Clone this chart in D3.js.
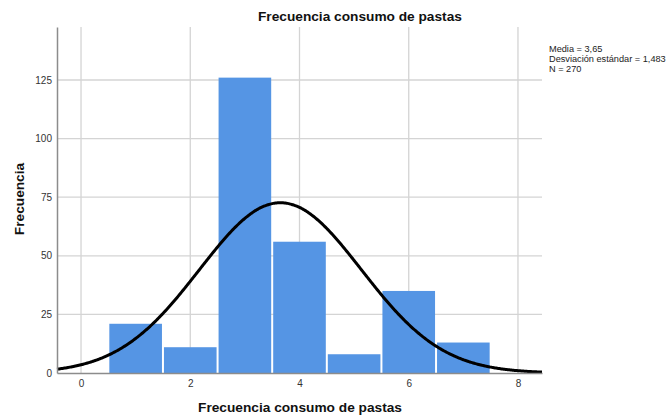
<!DOCTYPE html>
<html>
<head>
<meta charset="utf-8">
<script src="https://cdn.jsdelivr.net/npm/d3@7"></script>
<style>
  html, body { margin: 0; padding: 0; background: #fff; }
  svg { display: block; font-family: "Liberation Sans", Arial, sans-serif; }
</style>
</head>
<body>
<svg id="chart" width="668" height="417"></svg>
<script>
// Data
const binCenters = [1, 2, 3, 4, 5, 6, 7];
const counts = [21, 11, 126, 56, 8, 35, 13];
const xTicks = [0, 2, 4, 6, 8];
const yTicks = [0, 25, 50, 75, 100, 125];
const meanVal = 3.65;
const sdVal = 1.483;
const nVal = 270;
const binWidth = 1;
const statsLines = ["Media = 3,65", "Desviación estándar = 1,483", "N = 270"];
const chartTitle = "Frecuencia consumo de pastas";
const xTitle = "Frecuencia consumo de pastas";
const yTitle = "Frecuencia";

(function () {
const svg = d3.select("#chart");
const pLeft = 57, pRight = 542, pTop = 27, pBottom = 373;

const x = d3.scaleLinear().domain([-0.44, 8.44]).range([pLeft, pRight]);
const y = d3.scaleLinear().domain([0, 147.6]).range([pBottom, pTop]);

// gridlines
const grid = svg.append("g");
grid.selectAll("line.h").data(yTicks.filter(d => d > 0)).join("line")
  .attr("x1", pLeft).attr("x2", pRight)
  .attr("y1", d => y(d)).attr("y2", d => y(d))
  .attr("stroke", "#d4d4d4").attr("stroke-width", 1.3);
grid.selectAll("line.v").data(xTicks).join("line")
  .attr("x1", d => x(d)).attr("x2", d => x(d))
  .attr("y1", pTop).attr("y2", pBottom)
  .attr("stroke", "#d4d4d4").attr("stroke-width", 1.3);

// bars
svg.append("g").selectAll("rect").data(binCenters).join("rect")
  .attr("x", (d) => x(d - binWidth / 2) + 1)
  .attr("width", (d) => x(d + binWidth / 2) - x(d - binWidth / 2) - 2)
  .attr("y", (d, i) => y(counts[i]))
  .attr("height", (d, i) => y(0) - y(counts[i]))
  .attr("fill", "#5595e4");

// normal curve
const pdf = v => nVal * binWidth / (sdVal * Math.sqrt(2 * Math.PI)) * Math.exp(-0.5 * Math.pow((v - meanVal) / sdVal, 2));
const xs = d3.range(-0.44, 8.441, 0.02);
svg.append("path")
  .datum(xs)
  .attr("d", d3.line().x(v => x(v)).y(v => y(pdf(v))).curve(d3.curveBasis))
  .attr("fill", "none").attr("stroke", "#000").attr("stroke-width", 3);

// axes
const xAxis = svg.append("g").attr("transform", `translate(0,${pBottom})`)
  .call(d3.axisBottom(x).tickValues(xTicks).tickSize(0).tickPadding(7).tickFormat(d3.format("d")));
xAxis.select(".domain").attr("stroke", "#8c8c8c").attr("stroke-width", 1.5);
xAxis.selectAll("text").attr("font-size", 10).attr("fill", "#333")
  .attr("font-family", "'Liberation Sans', Arial, sans-serif");

const yAxis = svg.append("g").attr("transform", `translate(${pLeft},0)`)
  .call(d3.axisLeft(y).tickValues(yTicks).tickSize(0).tickPadding(5).tickFormat(d3.format("d")));
yAxis.select(".domain").attr("stroke", "#8c8c8c").attr("stroke-width", 1.5);
yAxis.selectAll("text").attr("font-size", 10).attr("fill", "#333")
  .attr("font-family", "'Liberation Sans', Arial, sans-serif");

// titles
svg.append("text").attr("x", 258).attr("y", 21).attr("text-anchor", "start")
  .attr("font-size", 13.7).attr("font-weight", "bold").attr("fill", "#111").text(chartTitle);
svg.append("text").attr("x", 300).attr("y", 412).attr("text-anchor", "middle")
  .attr("font-size", 13.7).attr("font-weight", "bold").attr("fill", "#111").text(xTitle);
svg.append("text").attr("transform", "translate(24,199) rotate(-90)").attr("text-anchor", "middle")
  .attr("font-size", 13.7).attr("font-weight", "bold").attr("fill", "#111").text(yTitle);

// stats
svg.append("g").selectAll("text").data(statsLines).join("text")
  .attr("x", 549).attr("y", (d, i) => 52 + i * 10)
  .attr("font-size", 9.2).attr("fill", "#222").text(d => d);
})();
</script>
</body>
</html>
